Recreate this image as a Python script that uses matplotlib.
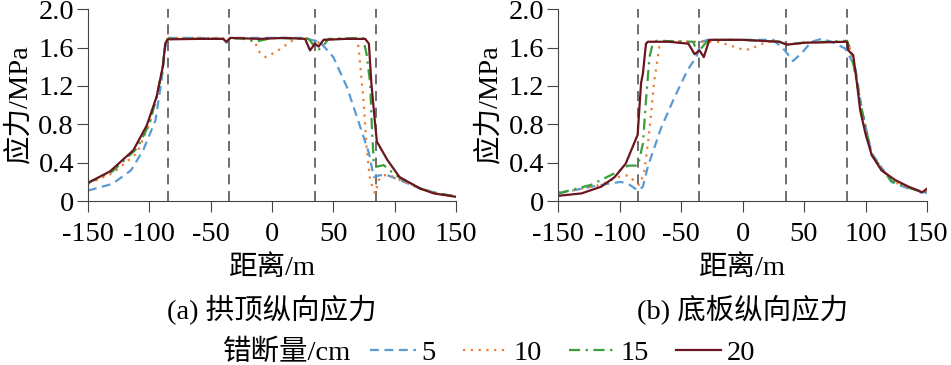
import matplotlib
matplotlib.use("Agg")
import matplotlib.pyplot as plt
from matplotlib.lines import Line2D

plt.rcParams['font.family'] = ['Liberation Serif', 'Noto Sans CJK SC']
plt.rcParams['axes.unicode_minus'] = False

# (a) 拱顶纵向应力
a_x5 = [-150, -130, -115, -105, -95, -90, -87, -85, -60, -40, -37, -34, 0, 25, 39, 50, 61, 72, 79, 83, 88, 94, 104, 121, 135, 150]
a_y5 = [0.11, 0.18, 0.32, 0.53, 0.84, 1.26, 1.60, 1.70, 1.70, 1.69, 1.65, 1.70, 1.70, 1.70, 1.66, 1.50, 1.19, 0.77, 0.50, 0.25, 0.27, 0.27, 0.22, 0.13, 0.08, 0.05]
a_x10 = [-150, -130, -110, -100, -94, -89, -87, -85, -40, -37, -34, -15, -10, -5, 4, 15, 20, 28, 32, 35, 40, 68, 70.5, 74.6, 77.3, 80, 84, 87, 91, 96, 104.5, 121, 135, 150]
a_y10 = [0.18, 0.29, 0.50, 0.80, 1.08, 1.40, 1.64, 1.70, 1.70, 1.66, 1.70, 1.68, 1.55, 1.50, 1.56, 1.66, 1.69, 1.70, 1.66, 1.62, 1.68, 1.70, 1.61, 1.05, 0.53, 0.22, 0.08, 0.22, 0.27, 0.27, 0.22, 0.13, 0.08, 0.05]
a_x15 = [-150, -130, -110, -100, -94, -89, -87, -85, -40, -37, -34, -20, -15, -10, 0, 30, 34, 38, 42, 46, 74, 77, 80, 81.4, 83, 85.5, 91, 96, 104.5, 121, 135, 150]
a_y15 = [0.19, 0.31, 0.55, 0.80, 1.09, 1.40, 1.64, 1.69, 1.69, 1.66, 1.70, 1.69, 1.66, 1.67, 1.70, 1.69, 1.62, 1.58, 1.62, 1.69, 1.70, 1.54, 1.23, 0.78, 0.39, 0.36, 0.375, 0.32, 0.24, 0.13, 0.08, 0.05]
a_x20 = [-150, -132, -113, -102, -94, -89, -87, -85, -60, -40, -37, -34, -10, 10, 27, 31, 35, 38, 42, 60, 76, 79, 81, 84, 85.5, 94, 104, 121, 132, 150]
a_y20 = [0.19, 0.31, 0.53, 0.79, 1.09, 1.40, 1.64, 1.685, 1.69, 1.69, 1.66, 1.70, 1.69, 1.70, 1.69, 1.57, 1.64, 1.61, 1.68, 1.69, 1.69, 1.64, 1.23, 0.81, 0.62, 0.43, 0.25, 0.13, 0.08, 0.045]

# (b) 底板纵向应力
b_x5 = [-150, -123, -110, -99, -93, -85, -81, -77, -66, -55, -44.5, -37.6, -33.5, -28, 0, 25, 34.4, 41, 48, 56, 64, 72.5, 83.4, 91.6, 97, 105, 121, 135, 143, 147.5, 150]
b_y5 = [0.08, 0.15, 0.18, 0.20, 0.18, 0.11, 0.15, 0.36, 0.77, 1.09, 1.37, 1.50, 1.66, 1.68, 1.68, 1.68, 1.57, 1.46, 1.54, 1.66, 1.69, 1.66, 1.59, 1.40, 0.95, 0.50, 0.20, 0.13, 0.11, 0.06, 0.10]
b_x10 = [-150, -137, -115, -101.5, -93, -89, -84, -80, -76, -72, -67.6, -63.5, -40, -20, -10, -5, 0, 7, 12, 20, 30, 36, 50, 85, 88, 93, 97, 105, 121, 135, 147, 150]
b_y10 = [0.09, 0.115, 0.17, 0.25, 0.27, 0.22, 0.17, 0.29, 0.70, 1.23, 1.61, 1.67, 1.66, 1.66, 1.62, 1.60, 1.58, 1.58, 1.62, 1.66, 1.66, 1.63, 1.65, 1.66, 1.57, 1.23, 0.95, 0.48, 0.21, 0.14, 0.09, 0.12]
b_x15 = [-150, -123, -104, -93, -85, -81, -78.5, -75.7, -73, -70, -40, -37, -33, -28, 0, 30, 36, 50, 85, 88, 93, 97, 105, 121, 135, 147, 150]
b_y15 = [0.08, 0.17, 0.29, 0.37, 0.37, 0.60, 1.05, 1.50, 1.64, 1.67, 1.66, 1.54, 1.60, 1.68, 1.68, 1.66, 1.63, 1.65, 1.67, 1.57, 1.23, 0.95, 0.48, 0.21, 0.14, 0.09, 0.12]
b_x20 = [-150, -131, -115, -104, -95, -85.3, -82.5, -81, -78.5, -77, -60, -44, -39, -35, -31.5, -27, 0, 30, 36, 50, 85, 86, 90, 93, 95.6, 100, 105, 113, 124, 135, 143, 146, 150]
b_y20 = [0.055, 0.08, 0.15, 0.25, 0.39, 0.69, 1.23, 1.33, 1.64, 1.66, 1.66, 1.64, 1.53, 1.57, 1.50, 1.68, 1.68, 1.66, 1.63, 1.65, 1.66, 1.57, 1.52, 1.23, 0.95, 0.70, 0.48, 0.32, 0.22, 0.15, 0.11, 0.09, 0.13]

vlines = [-85, -35, 35, 85]
x_ticks = [-150, -100, -50, 0, 50, 100, 150]
y_ticks = [0, 0.4, 0.8, 1.2, 1.6, 2.0]
y_labels = ['0', '0.4', '0.8', '1.2', '1.6', '2.0']
labels = ['5', '10', '15', '20']
captions = ['(a) 拱顶纵向应力', '(b) 底板纵向应力']

colors = ['#5b9bd5', '#ed7d31', '#3a9f3a', '#6b1520']
styles = [(0, (4, 2.5)), (0, (1, 2.5)), (0, (5, 2.5, 1, 2.5)), '-']

fig = plt.figure(figsize=(9.51, 3.65), dpi=100)
ax1 = fig.add_axes([0.0925, 0.449, 0.387, 0.526])
ax2 = fig.add_axes([0.5868, 0.449, 0.388, 0.526])

data = [
    [(a_x5, a_y5), (a_x10, a_y10), (a_x15, a_y15), (a_x20, a_y20)],
    [(b_x5, b_y5), (b_x10, b_y10), (b_x15, b_y15), (b_x20, b_y20)],
]

fs = 20.5
gray = '#444444'
for ax, series, cap in zip([ax1, ax2], data, captions):
    for v in vlines:
        ax.axvline(v, color='#555555', lw=1.2, ls=(0, (6, 4)), zorder=1)
    for (x, y), c, s in zip(series, colors, styles):
        ax.plot(x, y, color=c, ls=s, lw=1.6, zorder=2)
    ax.set_xlim(-150, 150)
    ax.set_ylim(0, 2.0)
    ax.set_xticks(x_ticks)
    ax.set_xticklabels([str(t) for t in x_ticks])
    ax.set_yticks(y_ticks)
    ax.set_yticklabels(y_labels)
    ax.tick_params(axis='x', direction='out', length=8, labelsize=fs, pad=7, color=gray)
    ax.tick_params(axis='y', direction='out', length=8, labelsize=fs, pad=2, color=gray)
    for sp in ['top', 'right']:
        ax.spines[sp].set_visible(False)
    for sp in ['left', 'bottom']:
        ax.spines[sp].set_color(gray)
    ax.set_ylabel('应力/MPa', fontsize=fs, labelpad=4)
    ax.set_xlabel('距离/m', fontsize=fs, labelpad=6)
    pos = ax.get_position()
    fig.text((pos.x0 + pos.x1) / 2, 1 - 310 / 365, cap, fontsize=fs,
             ha='center', va='center')

handles = [Line2D([], [], color=c, ls=s, lw=1.6) for c, s in zip(colors, styles)]
fig.text(223 / 951, 1 - 353 / 365, '错断量/cm', fontsize=fs, ha='left', va='center')
fig.legend(handles, labels, ncol=4, frameon=False, fontsize=fs,
           loc='center left', bbox_to_anchor=(370 / 951, 1 - 353 / 365),
           borderpad=0, borderaxespad=0, handlelength=1.6,
           handletextpad=0.2, columnspacing=0.95)

fig.savefig('out.png', dpi=100)
